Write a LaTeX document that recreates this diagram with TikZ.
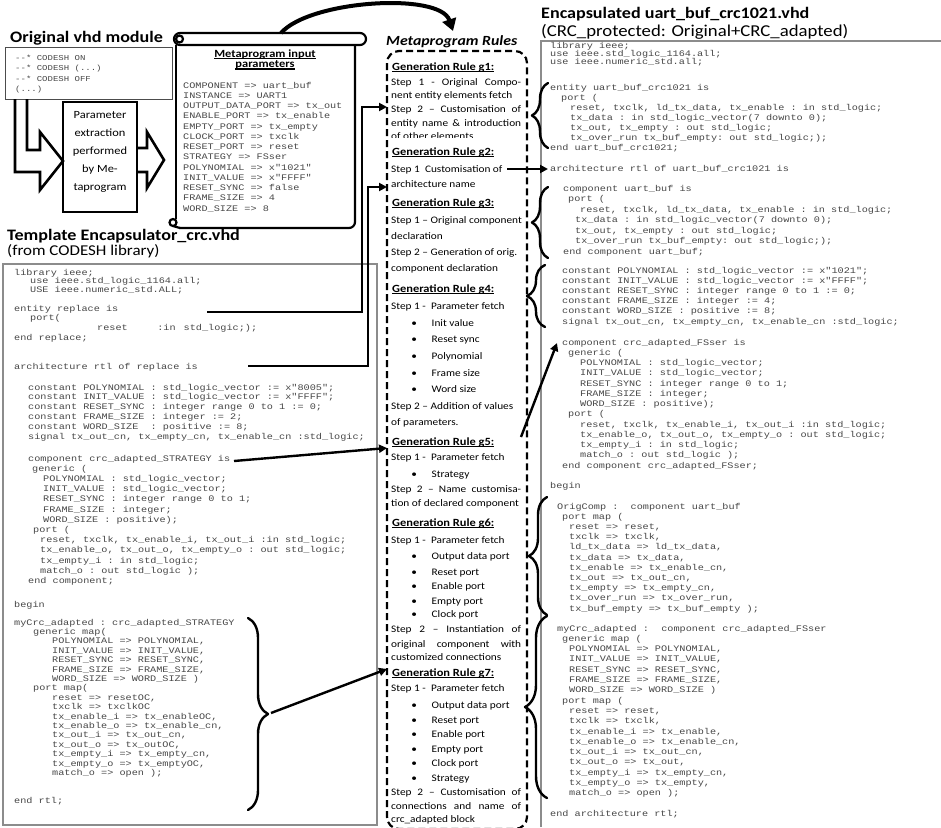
\documentclass[tikz,border=0pt]{standalone}
\usepackage{fontspec}
\setmainfont{Carlito}
\setsansfont{Carlito}
\setmonofont{Liberation Mono}
\usetikzlibrary{arrows.meta,decorations.pathreplacing}

\definecolor{codegray}{gray}{0.28}
\definecolor{framegray}{gray}{0.55}

% indentation inside code lines (code nodes are stretched by 1.2)
\newcommand\ind[1]{\hskip\dimexpr#1pt*5/6\relax}
% left-aligned / centred line blocks with a fixed line pitch
\newcommand\cb[2]{\vtop{\baselineskip=#1pt\lineskiplimit=-1000pt\lineskip=0pt\let\\\cr\halign{##\hfil\cr#2\crcr}}}
\newcommand\cbc[2]{\vtop{\baselineskip=#1pt\lineskiplimit=-1000pt\lineskip=0pt\let\\\cr\halign{\hfil##\hfil\cr#2\crcr}}}
% justified rule line
\newcommand\jl[1]{\makebox[115pt][s]{#1}}
% thick underline
\newcommand\ul[1]{\setbox0\hbox{#1}\rlap{\rule[-2pt]{\wd0}{1.2pt}}\box0}

\tikzset{
  code/.style={inner sep=0pt, anchor=base west, xscale=1.2, text=codegray,
    font=\ttfamily\fontsize{8.5}{10}\selectfont},
  smallcode/.style={code, font=\ttfamily\fontsize{7.5}{9}\selectfont},
  rtxt/.style={inner sep=0pt, anchor=base west, xscale=1.13,
    font=\fontsize{10}{12}\selectfont},
  rhead/.style={rtxt, font=\bfseries\fontsize{11}{13}\selectfont},
  title/.style={inner sep=0pt, anchor=base west, xscale=1.13,
    font=\bfseries\fontsize{16}{19}\selectfont},
  subtitle/.style={title, font=\fontsize{#1}{19}\selectfont},
  subtitle/.default=16,
  frame/.style={draw=framegray, line width=1.2pt},
  arr/.style={line width=2.4pt, -{Triangle[length=8pt,width=8pt]}},
  bigarr/.style={line width=4pt, -{Triangle[length=12pt,width=14pt]}},
  hollow/.style={line width=2.6pt, line join=miter},
  brc/.style={decorate, decoration={brace, amplitude=#1}, line width=2.4pt,
    line cap=round, line join=round},
  brc/.default=16pt,
  scr/.style={line width=2.2pt},
  dashbox/.style={line width=2.2pt, dash pattern=on 7pt off 4pt, rounded corners=12pt},
}

\begin{document}
\begin{tikzpicture}[x=1pt,y=-1pt]
\useasboundingbox (0,0) rectangle (941,827);
\fill[white] (0,0) rectangle (941,827);

% ---------------- original module ----------------
\node[title] (origtitle) at (10,42) {Original vhd module};
\draw[draw=black!70, line width=1pt] (5,47) rectangle (172,99);
\node[smallcode] (origcode) at (15,60) {\cb{10.5}{-{}-* CODESH ON\\-{}-* CODESH (...)\\-{}-* CODESH OFF\\(...)}};

% parameter extraction box and hollow arrows
\node[draw, line width=2pt, inner sep=0pt, minimum width=74pt, minimum height=110pt] (pbox) at (100,157) {};
\node[inner sep=0pt, anchor=base, xscale=1.13, font=\fontsize{11}{13}\selectfont] (ptext) at (100,118.5)
  {\cbc{17.9}{Parameter\\extraction\\performed\\by Me-\\taprogram}};
\draw[hollow] (15,99) -- (15,172) -- (40,172) -- (40,190) -- (63,161) -- (40,132) -- (40,150) -- (27,150) -- (27,99);
\draw[hollow] (137,148) -- (147,148) -- (147,132) -- (164,160) -- (147,188) -- (147,172) -- (137,172);

% ---------------- scroll with metaprogram parameters ----------------
\draw[scr, rounded corners=6pt] (174,33) rectangle (366,45);
\draw[scr] (179.5,39) circle[radius=3.5];
\draw[scr] (176,45) -- (176,219);
\draw[scr, rounded corners=6pt] (179,228) -- (355,228) -- (355,45);
\draw[scr] (173,222.5) circle[radius=3.5];
\draw[scr] (173,226) -- (180,228);
\node[inner sep=0pt, anchor=base, xscale=1.13, font=\bfseries\fontsize{11}{13}\selectfont] (sh1) at (265,57) {\ul{Metaprogram input}};
\node[inner sep=0pt, anchor=base, xscale=1.13, font=\bfseries\fontsize{11}{13}\selectfont] (sh2) at (265,67.5) {\ul{parameters}};
\node[code] (params) at (183,88) {\cb{10.25}{%
COMPONENT => uart\_buf\\
INSTANCE => UART1\\
OUTPUT\_DATA\_PORT => tx\_out\\
ENABLE\_PORT => tx\_enable\\
EMPTY\_PORT => tx\_empty\\
CLOCK\_PORT => txclk\\
RESET\_PORT => reset\\
STRATEGY => FSser\\
POLYNOMIAL => x"1021"\\
INIT\_VALUE => x"FFFF"\\
RESET\_SYNC => false\\
FRAME\_SIZE => 4\\
WORD\_SIZE => 8}};

% ---------------- template ----------------
\node[title] (tpltitle) at (7,240) {Template Encapsulator\_crc.vhd};
\node[subtitle=15] (tplsub) at (7,255) {(from CODESH library)};
\draw[frame] (3,264) rectangle (377,825);
\node[code] (t1) at (14,275) {\cb{8.5}{library ieee;\\\ind{16}use ieee.std\_logic\_1164.all;\\\ind{16}USE ieee.numeric\_std.ALL;}};
\node[code] (t2) at (14,311) {\cb{9.7}{entity replace is\\\ind{16}port(\\\ind{83}reset\ind{29.5}:in\ind{8}std\_logic;);\\end replace;}};
\node[code] (t3) at (14,369) {architecture rtl of replace is};
\node[code] (t4) at (14,390) {\cb{9.8}{%
\ind{14}constant POLYNOMIAL : std\_logic\_vector := x"8005";\\
\ind{14}constant INIT\_VALUE : std\_logic\_vector := x"FFFF";\\
\ind{14}constant RESET\_SYNC : integer range 0 to 1 := 0;\\
\ind{14}constant FRAME\_SIZE : integer := 2;\\
\ind{14}constant WORD\_SIZE ~: positive := 8;\\
\ind{14}signal tx\_out\_cn, tx\_empty\_cn, tx\_enable\_cn :std\_logic;}};
\node[code] (t5) at (14,461) {\cb{10.2}{%
\ind{14}component crc\_adapted\_STRATEGY is\\
\ind{18}generic (\\
\ind{29}POLYNOMIAL : std\_logic\_vector;\\
\ind{29}INIT\_VALUE : std\_logic\_vector;\\
\ind{29}RESET\_SYNC : integer range 0 to 1;\\
\ind{29}FRAME\_SIZE : integer;\\
\ind{29}WORD\_SIZE : positive);\\
\ind{19}port (\\
\ind{26}reset, txclk, tx\_enable\_i, tx\_out\_i :in std\_logic;\\
\ind{26}tx\_enable\_o, tx\_out\_o, tx\_empty\_o : out std\_logic;\\
\ind{26}tx\_empty\_i : in std\_logic;\\
\ind{26}match\_o : out std\_logic );\\
\ind{14}end component;}};
\node[code] (t6) at (14,607) {begin};
\node[code] (t7) at (14,625) {\cb{9.4}{%
myCrc\_adapted : crc\_adapted\_STRATEGY\\
\ind{19}generic map(\\
\ind{38}POLYNOMIAL => POLYNOMIAL,\\
\ind{38}INIT\_VALUE => INIT\_VALUE,\\
\ind{38}RESET\_SYNC => RESET\_SYNC,\\
\ind{38}FRAME\_SIZE => FRAME\_SIZE,\\
\ind{38}WORD\_SIZE => WORD\_SIZE )\\
\ind{19}port map(\\
\ind{38}reset => resetOC,\\
\ind{38}txclk => txclkOC\\
\ind{38}tx\_enable\_i => tx\_enableOC,\\
\ind{38}tx\_enable\_o => tx\_enable\_cn,\\
\ind{38}tx\_out\_i => tx\_out\_cn,\\
\ind{38}tx\_out\_o => tx\_outOC,\\
\ind{38}tx\_empty\_i => tx\_empty\_cn,\\
\ind{38}tx\_empty\_o => tx\_emptyOC,\\
\ind{38}match\_o => open );}};
\node[code] (t8) at (14,803) {end rtl;};

% ---------------- metaprogram rules ----------------
\node[inner sep=0pt, anchor=base west, xscale=1.13, font=\bfseries\itshape\fontsize{14}{17}\selectfont] (rulestitle) at (386,45) {Metaprogram Rules};
\draw[dashbox] (387,51) rectangle (527,829);
\foreach \y/\t [count=\i] in {70/g1, 155/g2, 206/g3, 292/g4, 445/g5, 526/g6, 676/g7}
  \node[rhead] (gh\i) at (392,\y) {\ul{Generation Rule \t:}};
\foreach \y/\t [count=\i] in {
  85/{\jl{Step 1 - Original Compo-}},
  98/{nent entity elements fetch},
  112/{\jl{Step 2 – Customisation of}},
  126/{\jl{entity name \& introduction}},
  172/{Step 1~ Customisation of},
  187/{architecture name},
  223/{Step 1 – Original component},
  239/{declaration},
  255/{Step 2 – Generation of orig.},
  271/{component declaration},
  309/{Step 1 -~ Parameter fetch},
  409/{Step 2 – Addition of values},
  425/{of parameters.},
  460/{Step 1 -~ Parameter fetch},
  492/{\jl{Step 2 – Name customisa-}},
  506/{tion of declared component},
  543/{Step 1 -~ Parameter fetch},
  632/{\jl{Step 2 – Instantiation of}},
  647/{\jl{original component with}},
  660/{customized connections},
  691/{Step 1 -~ Parameter fetch},
  795/{\jl{Step 2 – Customisation of}},
  809/{\jl{connections and name of}},
  822/{crc\_adapted block}}
  \node[rtxt] (rl\i) at (391,\y) {\t};
\foreach \y/\t [count=\i] in {
  326/Init value, 342/Reset sync, 359/Polynomial, 376/Frame size, 392/Word size,
  477/Strategy,
  559/Output data port, 575/Reset port, 589/Enable port, 604/Empty port, 617/Clock port,
  708/Output data port, 723/Reset port, 737/Enable port, 752/Empty port, 766/Clock port, 781/Strategy}
  \node[rtxt] (bl\i) at (410,\y) {\makebox[19pt][l]{\hspace{1pt}•}\t};
\begin{scope}
  \clip (388,125) rectangle (526,137.5);
  \node[rtxt] (rlcut) at (391,139) {of other elements};
\end{scope}

% ---------------- encapsulated result ----------------
\node[title] (restitle) at (541,18.5) {Encapsulated uart\_buf\_crc1021.vhd};
\node[subtitle=16.6] (ressub) at (541,36) {(CRC\_protected: Original+CRC\_adapted)};
\draw[frame] (541,827) -- (541,41) -- (941,41);
\node[code] (r1) at (550,48) {\cb{8.4}{library ieee;\\use ieee.std\_logic\_1164.all;\\use ieee.numeric\_std.all;}};
\node[code] (r2) at (550,90) {\cb{10}{%
entity uart\_buf\_crc1021 is\\
\ind{11}port (\\
\ind{20}reset, txclk, ld\_tx\_data, tx\_enable : in std\_logic;\\
\ind{20}tx\_data : in std\_logic\_vector(7 downto 0);\\
\ind{20}tx\_out, tx\_empty : out std\_logic;\\
\ind{20}tx\_over\_run tx\_buf\_empty: out std\_logic;);\\
end uart\_buf\_crc1021;}};
\node[code] (r3) at (550,171) {architecture rtl of uart\_buf\_crc1021 is};
\node[code] (r4) at (550,191) {\cb{10.5}{%
\ind{13}component uart\_buf is\\
\ind{18}port (\\
\ind{30}reset, txclk, ld\_tx\_data, tx\_enable : in std\_logic;\\
\ind{25}tx\_data : in std\_logic\_vector(7 downto 0);\\
\ind{25}tx\_out, tx\_empty : out std\_logic;\\
\ind{25}tx\_over\_run tx\_buf\_empty: out std\_logic;);\\
\ind{13}end component uart\_buf;}};
\node[code] (r5) at (550,273) {\cb{10.2}{%
\ind{12}constant POLYNOMIAL : std\_logic\_vector := x"1021";\\
\ind{12}constant INIT\_VALUE : std\_logic\_vector := x"FFFF";\\
\ind{12}constant RESET\_SYNC : integer range 0 to 1 := 0;\\
\ind{12}constant FRAME\_SIZE : integer := 4;\\
\ind{12}constant WORD\_SIZE : positive := 8;\\
\ind{12}signal tx\_out\_cn, tx\_empty\_cn, tx\_enable\_cn :std\_logic;}};
\node[code] (r6) at (550,345) {\cb{10.25}{%
\ind{12}component crc\_adapted\_FSser is\\
\ind{18}generic (\\
\ind{30}POLYNOMIAL : std\_logic\_vector;\\
\ind{30}INIT\_VALUE : std\_logic\_vector;\\
\ind{30}RESET\_SYNC : integer range 0 to 1;\\
\ind{30}FRAME\_SIZE : integer;\\
\ind{30}WORD\_SIZE : positive);\\
\ind{18}port (\\
\ind{30}reset, txclk, tx\_enable\_i, tx\_out\_i :in std\_logic;\\
\ind{30}tx\_enable\_o, tx\_out\_o, tx\_empty\_o : out std\_logic;\\
\ind{30}tx\_empty\_i : in std\_logic;\\
\ind{30}match\_o : out std\_logic );\\
\ind{12}end component crc\_adapted\_FSser;}};
\node[code] (r7) at (550,488) {begin};
\node[code] (r8) at (550,509) {\cb{10.2}{%
\ind{7}OrigComp :~ component uart\_buf\\
\ind{12}port map (\\
\ind{19}reset => reset,\\
\ind{19}txclk => txclk,\\
\ind{19}ld\_tx\_data => ld\_tx\_data,\\
\ind{19}tx\_data => tx\_data,\\
\ind{19}tx\_enable => tx\_enable\_cn,\\
\ind{19}tx\_out => tx\_out\_cn,\\
\ind{19}tx\_empty => tx\_empty\_cn,\\
\ind{19}tx\_over\_run => tx\_over\_run,\\
\ind{19}tx\_buf\_empty => tx\_buf\_empty );}};
\node[code] (r9) at (550,631) {\cb{10.3}{%
\ind{7}myCrc\_adapted :~ component crc\_adapted\_FSser\\
\ind{12}generic map (\\
\ind{19}POLYNOMIAL => POLYNOMIAL,\\
\ind{19}INIT\_VALUE => INIT\_VALUE,\\
\ind{19}RESET\_SYNC => RESET\_SYNC,\\
\ind{19}FRAME\_SIZE => FRAME\_SIZE,\\
\ind{19}WORD\_SIZE => WORD\_SIZE )\\
\ind{12}port map (\\
\ind{19}reset => reset,\\
\ind{19}txclk => txclk,\\
\ind{19}tx\_enable\_i => tx\_enable,\\
\ind{19}tx\_enable\_o => tx\_enable\_cn,\\
\ind{19}tx\_out\_i => tx\_out\_cn,\\
\ind{19}tx\_out\_o => tx\_out,\\
\ind{19}tx\_empty\_i => tx\_empty\_cn,\\
\ind{19}tx\_empty\_o => tx\_empty,\\
\ind{19}match\_o => open );}};
\node[code] (r10) at (550,816) {end architecture rtl;};

% ---------------- braces ----------------
\draw[brc=16pt] (548,148) -- (548,83);
\draw[brc=16pt] (548,258) -- (548,187);
\draw[brc=18pt] (545,327) -- (545,265);
\draw[brc=18pt] (547,615) -- (547,497);
\draw[brc=22pt] (547,798) -- (547,616);
\draw[brc=20pt] (248,618) -- (248,810);

% ---------------- connectors ----------------
\coordinate (scrollTop) at (281,33);
\coordinate (rulesIn) at (453,31);
\draw[bigarr] (scrollTop) .. controls (310,0) and (440,-8) .. (rulesIn);

\coordinate (tA) at (207,312);
\coordinate (tB) at (248,366);
\coordinate (tC) at (234,461);
\coordinate (tplBraceTip) at (271,713);
\coordinate (kA) at (362,0);
\coordinate (kB) at (368,0);
\coordinate (g1in) at (387,107);
\coordinate (g2in) at (387,187);
\coordinate (g5in) at (387,448);
\coordinate (g7in) at (387,669);
\draw[arr] (tA) -- (tA -| kA) -- (kA |- g1in) -- (g1in);
\draw[arr] (tB) -- (tB -| kB) -- (kB |- g2in) -- (g2in);
\draw[arr] (tC) -- (g5in);
\draw[arr] (tplBraceTip) -- (g7in);

\coordinate (g2out) at (507,169);
\coordinate (archR) at (548,169);
\draw[arr] (g2out) -- (archR);
\coordinate (g5out) at (521,437);
\coordinate (compR) at (557,343);
\draw[arr] (g5out) -- (compR);
\end{tikzpicture}
\end{document}
